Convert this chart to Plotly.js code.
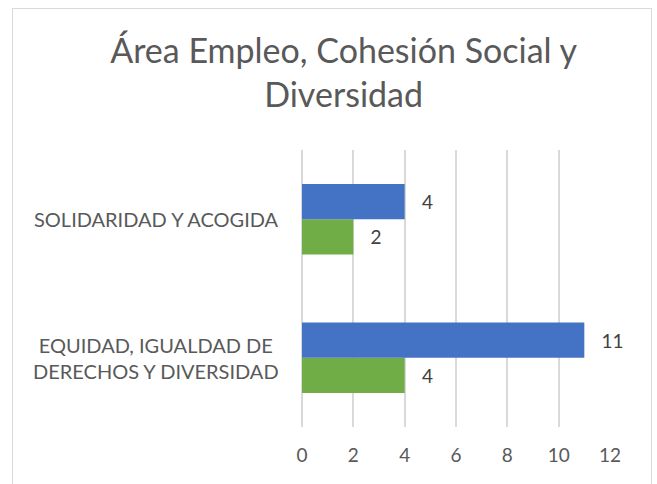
<!DOCTYPE html>
<html><head><meta charset="utf-8">
<script src="https://cdn.plot.ly/plotly-3.0.1.min.js"></script>
<style>
html,body{margin:0;padding:0;background:#fff;}
#chart{position:absolute;left:0;top:0;width:657px;height:484px;}
#frame{position:absolute;left:12px;top:8px;width:638px;height:490px;border:1px solid #d9d9d9;pointer-events:none;}
</style></head>
<body>
<div id="chart"></div>
<div id="frame"></div>
<script>
const titleText = "Área Empleo, Cohesión Social y<br>Diversidad";
const categories = ["EQUIDAD, IGUALDAD DE<br>DERECHOS Y DIVERSIDAD", "SOLIDARIDAD Y ACOGIDA"];
const serieAzul = [11, 4];
const serieVerde = [4, 2];
const xTicks = [0, 2, 4, 6, 8, 10, 12];

const FONT = "Lato, 'Open Sans', sans-serif";
const labelFont = {family: FONT, size: 19, color: "#404040"};

const traces = [
  {type: "bar", orientation: "h", name: "Serie 2", y: categories, x: serieVerde,
   marker: {color: "#70AD47"}, texttemplate: "\u2003%{x}",
   textposition: "outside", textfont: labelFont, cliponaxis: false, hoverinfo: "skip"},
  {type: "bar", orientation: "h", name: "Serie 1", y: categories, x: serieAzul,
   marker: {color: "#4472C4"}, texttemplate: "\u2003%{x}",
   textposition: "outside", textfont: labelFont, cliponaxis: false, hoverinfo: "skip"}
];

const annotations = categories.map(c => ({
  text: c, xref: "paper", x: 0, xanchor: "right", xshift: -21,
  yref: "y", y: c, yanchor: "middle", align: "center", showarrow: false,
  font: {family: FONT, size: 20, color: "#595959"}
}));

const layout = {
  width: 657, height: 484,
  margin: {l: 302, r: 47, t: 150, b: 57},
  paper_bgcolor: "rgba(0,0,0,0)", plot_bgcolor: "#fff",
  showlegend: false,
  barmode: "group", bargap: 0.49, bargroupgap: 0,
  title: {text: titleText, x: 0.523, xanchor: "center", y: 0.87, yanchor: "top",
          font: {family: FONT, size: 34, color: "#595959"}},
  xaxis: {range: [0, 12], tickvals: xTicks, ticktext: xTicks.map(String),
          showgrid: true, gridcolor: "#d9d9d9", gridwidth: 2,
          zeroline: true, zerolinecolor: "#d9d9d9", zerolinewidth: 2,
          showline: false, ticks: "", ticklabelstandoff: 15,
          tickfont: {family: FONT, size: 19, color: "#595959"},
          fixedrange: true},
  yaxis: {type: "category", categoryorder: "array", categoryarray: categories,
          showgrid: false, zeroline: false, showline: false, ticks: "",
          showticklabels: false, fixedrange: true},
  annotations: annotations
};

Plotly.newPlot("chart", traces, layout, {displayModeBar: false, staticPlot: true});
</script>
</body></html>
